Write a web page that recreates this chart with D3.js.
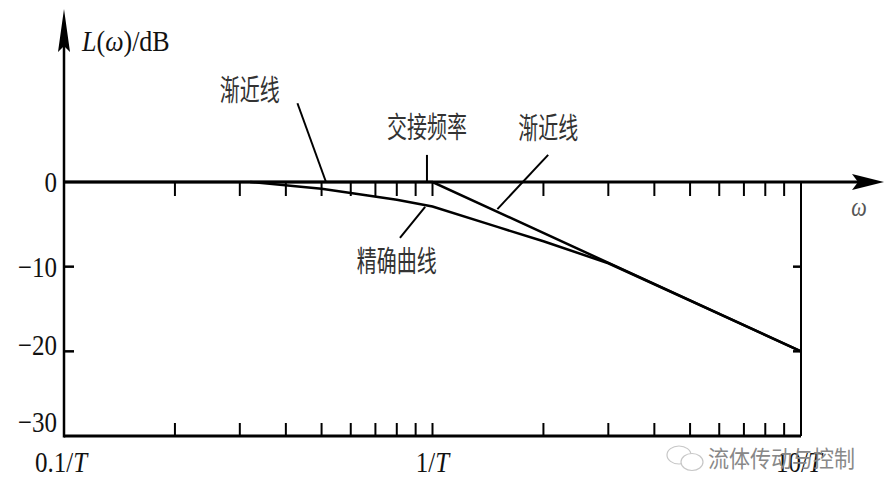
<!DOCTYPE html>
<html><head><meta charset="utf-8">
<script src="https://cdn.jsdelivr.net/npm/d3@7"></script>
<style>
html,body{margin:0;padding:0;background:#fff;}
svg{display:block;}
</style></head>
<body>
<svg id="c" width="888" height="496"></svg>
<script>
// ---- data (ω in units of 1/T, magnitude in dB) ----
const asymptote = [[0.1, 0], [1, 0], [10, -20]];
const exactCurve = [[0.32, 0], [0.5, -0.8], [0.6, -1.3], [0.8, -2.1], [1, -2.9], [1.5, -5.3], [2, -7.0], [3, -9.6], [10, -20]];
const yTicks = [0, -10, -20, -30];
const yTickLabels = ["0", "\u221210", "\u221220", "\u221230"];
const xMajor = [0.1, 1, 10];
const xMajorLabels = [["0.1/", "T"], ["1/", "T"], ["10/", "T"]];
const xMinor = [2,3,4,5,6,7,8,9,20,30,40,50,60,70,80,90].map(v => v / 10);
const annotations = [
  {text: "渐近线",  lw: 0.319, ldb: 10.7, w1: 0.43,  db1: 9.3,  w2: 0.514, db2: 0},
  {text: "交接频率", lw: 0.966, ldb: 6.4,  w1: 0.966, db1: 3.2,  w2: 0.966, db2: 0},
  {text: "渐近线",  lw: 2.06,  ldb: 6.3,  w1: 2.06,  db1: 3.2,  w2: 1.5,   db2: -3.2},
  {text: "精确曲线", lw: 0.80,  ldb: -9.4, w1: 0.816, db1: -6.6, w2: 0.955, db2: -2.95}
];
const watermark = "流体传动与控制";

// ---- scales ----
const svg = d3.select("#c");
const x = d3.scaleLog().domain([0.1, 10]).range([64, 801]);
const y = d3.scaleLinear().domain([-30, 0]).range([436, 182]);
const serif = "'Liberation Serif','Times New Roman',serif";
const cjk = "'Noto Sans CJK SC','Noto Sans CJK JP',sans-serif";

function txt(px, py, str, o) {
  const t = svg.append("text")
    .attr("transform", `translate(${px},${py}) scale(${o.sx || 1},${o.sy || 1})`)
    .attr("text-anchor", o.anchor || "start")
    .attr("font-family", o.family || serif)
    .attr("font-size", o.size || 26)
    .attr("fill", o.fill || "#111");
  if (Array.isArray(str)) {
    t.append("tspan").text(str[0]);
    t.append("tspan").attr("font-style", "italic").text(str[1]);
  } else t.text(str);
  return t;
}

// ---- frame ----
const x0 = x(0.1), x1 = x(10), yTop = y(0), yBot = y(-30);
// bottom axis
svg.append("line").attr("x1", x0).attr("x2", x1).attr("y1", yBot).attr("y2", yBot)
  .attr("stroke", "#000").attr("stroke-width", 3);
// right axis
svg.append("line").attr("x1", x1).attr("x2", x1).attr("y1", yTop).attr("y2", yBot)
  .attr("stroke", "#000").attr("stroke-width", 2);
// left axis (vertical with arrow)
svg.append("line").attr("x1", x0).attr("x2", x0).attr("y1", 40).attr("y2", yBot + 1.5)
  .attr("stroke", "#000").attr("stroke-width", 2.5);
svg.append("path").attr("d", `M${x0},9 L${x0 - 6},52 L${x0},46 L${x0 + 6},52 Z`).attr("fill", "#000");
// zero-dB axis with arrow
svg.append("line").attr("x1", x0).attr("x2", 862).attr("y1", yTop).attr("y2", yTop)
  .attr("stroke", "#000").attr("stroke-width", 3);
svg.append("path").attr("d", `M884,${yTop} L852,${yTop - 8} L858,${yTop} L852,${yTop + 8} Z`).attr("fill", "#000");

// x ticks top (hanging down) and bottom (pointing up)
const allX = xMinor.concat([1]);
svg.append("g").selectAll("line").data(allX).join("line")
  .attr("x1", d => x(d)).attr("x2", d => x(d)).attr("y1", yTop).attr("y2", yTop + 14)
  .attr("stroke", "#000").attr("stroke-width", 2);
svg.append("g").selectAll("line").data(allX).join("line")
  .attr("x1", d => x(d)).attr("x2", d => x(d)).attr("y1", yBot).attr("y2", yBot - 13)
  .attr("stroke", "#000").attr("stroke-width", 2);
// y ticks left (inward) and right (inward)
const innerY = [-10, -20];
svg.append("g").selectAll("line").data(innerY).join("line")
  .attr("x1", x0).attr("x2", x0 + 10).attr("y1", d => y(d)).attr("y2", d => y(d))
  .attr("stroke", "#000").attr("stroke-width", 2.5);
svg.append("g").selectAll("line").data(innerY).join("line")
  .attr("x1", x1).attr("x2", x1 - 8).attr("y1", d => y(d)).attr("y2", d => y(d))
  .attr("stroke", "#000").attr("stroke-width", 2.5);

// y labels
yTicks.forEach((v, i) => {
  const off = v === -30 ? -4 : (v === -20 ? 4 : 10);
  txt(57, y(v) + off, yTickLabels[i], {anchor: "end", size: 25, sy: 1.2});
});
// x labels
xMajor.forEach((v, i) => {
  txt(x(v) - (i === 0 ? 3 : 0) - (i === 2 ? 2 : 0), 472, xMajorLabels[i], {anchor: "middle", size: 25, sy: 1.2});
});
// axis titles
const yl = svg.append("text").attr("transform", "translate(82,51) scale(1,1.12)")
  .attr("font-family", serif).attr("font-size", 26).attr("fill", "#111");
yl.append("tspan").attr("font-style", "italic").text("L");
yl.append("tspan").text("(");
yl.append("tspan").attr("font-style", "italic").text("ω");
yl.append("tspan").text(")/dB");
svg.append("text").attr("transform", "translate(859,216) scale(1,1.2)").attr("text-anchor", "middle")
  .attr("font-family", serif).attr("font-style", "italic").attr("font-size", 22).attr("fill", "#555").text("ω");

// ---- curves ----
const line = d3.line().x(d => x(d[0])).y(d => y(d[1]));
svg.append("path").datum(asymptote).attr("d", line).attr("fill", "none")
  .attr("stroke", "#000").attr("stroke-width", 2.5);
svg.append("path").datum(exactCurve).attr("d", line).attr("fill", "none")
  .attr("stroke", "#000").attr("stroke-width", 2.5);

// ---- annotations ----
annotations.forEach(a => {
  svg.append("line").attr("x1", x(a.w1)).attr("y1", y(a.db1)).attr("x2", x(a.w2)).attr("y2", y(a.db2))
    .attr("stroke", "#000").attr("stroke-width", 2);
  txt(x(a.lw), y(a.ldb) + 10, a.text, {anchor: "middle", family: cjk, size: 20, sy: 1.45, fill: "#333"});
});

// ---- watermark ----
const wm = svg.append("g").attr("opacity", 0.55);
wm.append("ellipse").attr("cx", 679).attr("cy", 455).attr("rx", 12).attr("ry", 9)
  .attr("fill", "#fff").attr("stroke", "#999").attr("stroke-width", 1.2);
wm.append("ellipse").attr("cx", 692).attr("cy", 462).attr("rx", 11).attr("ry", 8.5)
  .attr("fill", "#fff").attr("stroke", "#999").attr("stroke-width", 1.2);
txt(708, 467, watermark, {family: cjk, size: 21, sy: 1.1, fill: "#888"}).attr("opacity", 1);
</script>
</body></html>
